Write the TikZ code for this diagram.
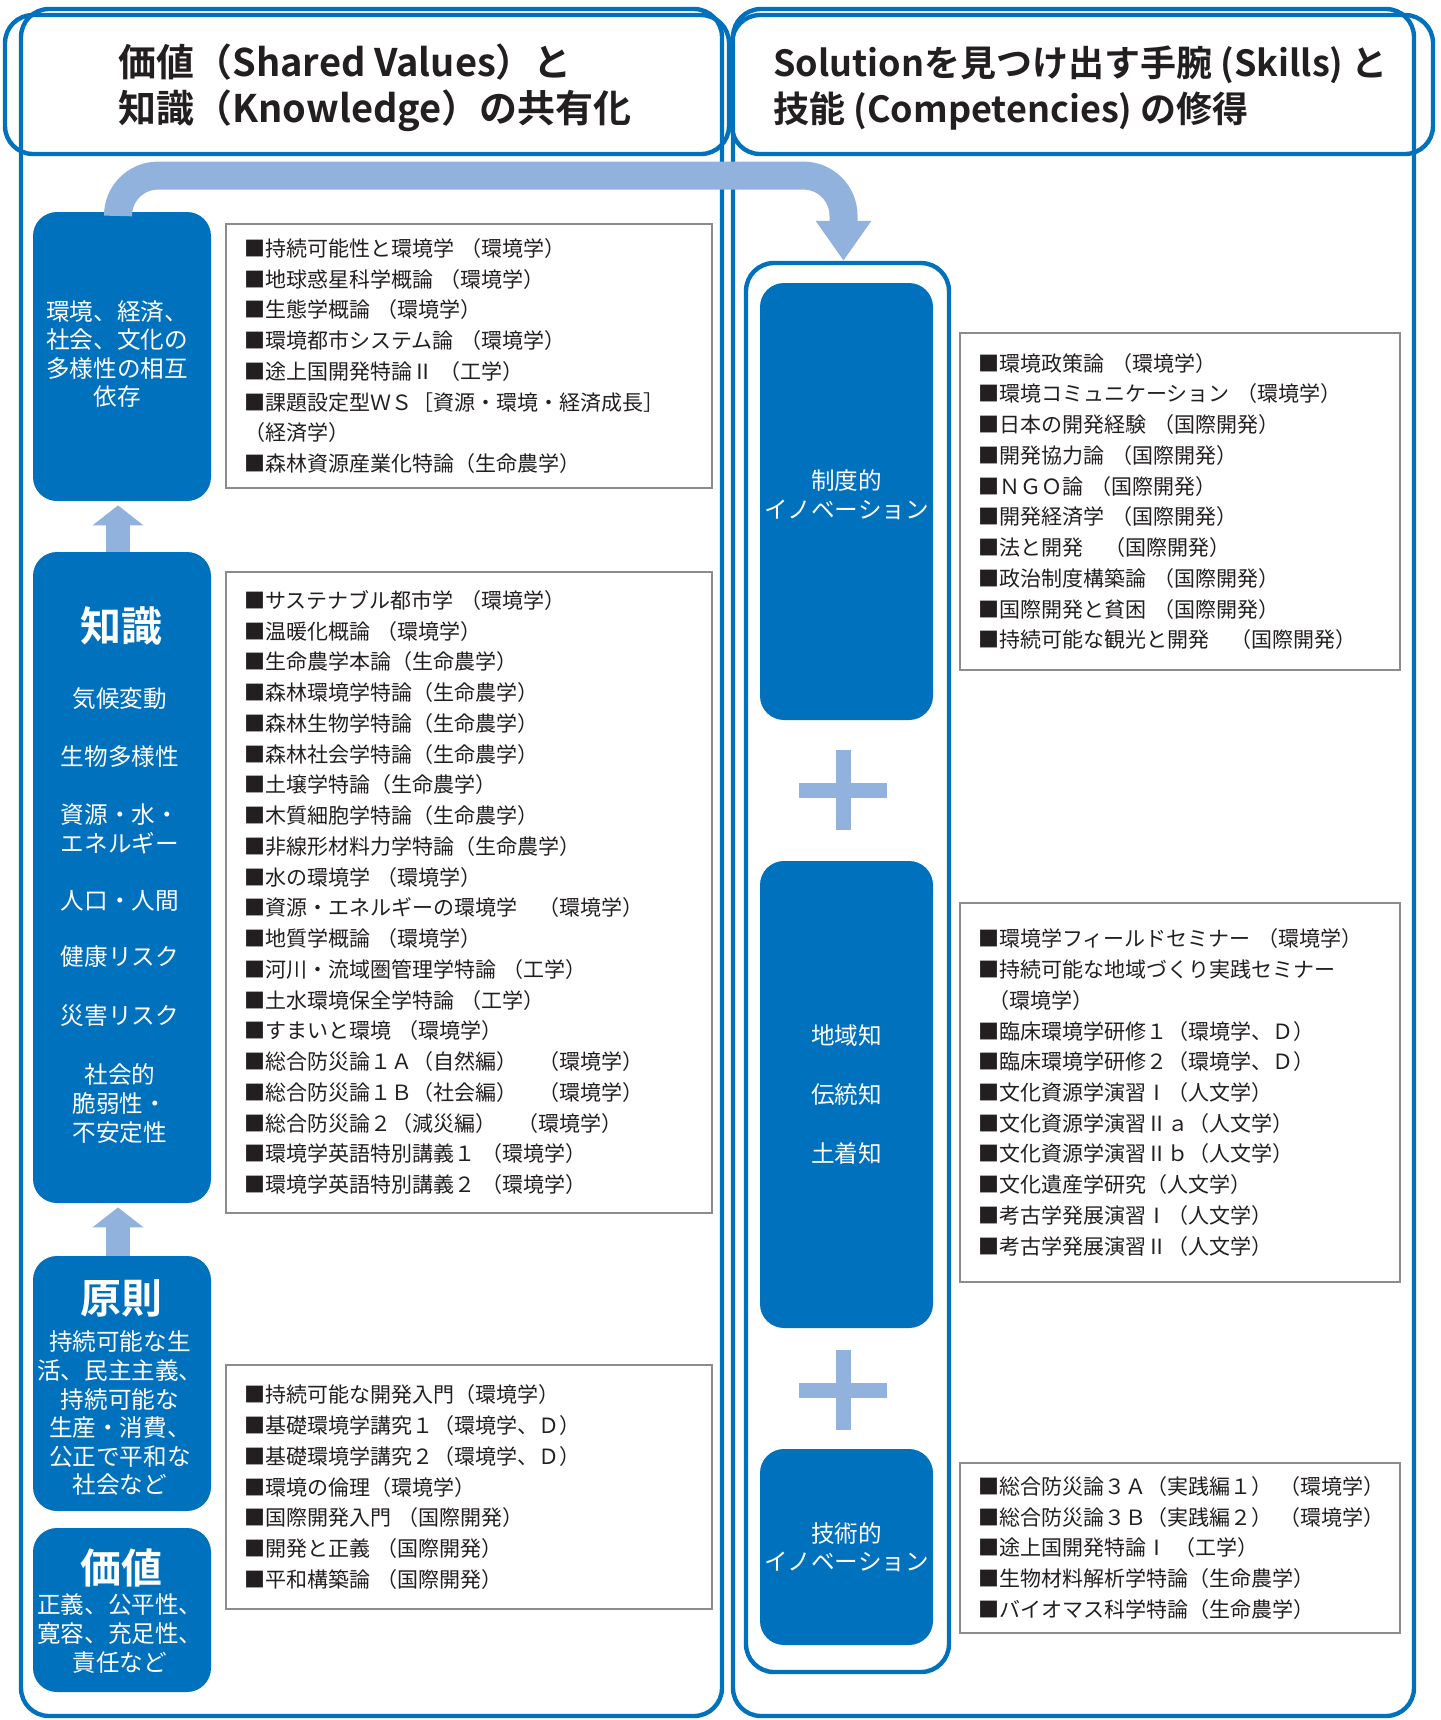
\documentclass[tikz,border=0pt]{standalone}
\usepackage{fontspec}
\setmainfont{Noto Sans CJK JP}[BoldFont={Noto Sans CJK JP Bold}]
\usetikzlibrary{positioning,arrows.meta}
\definecolor{uniblue}{RGB}{0,113,188}
\definecolor{paleblue}{RGB}{145,178,221}
\definecolor{boxgray}{RGB}{140,140,140}
\definecolor{inkgray}{RGB}{35,31,32}
\begin{document}
\begin{tikzpicture}[x=0.5pt,y=-0.5pt,
    frame/.style={draw=uniblue, line width=2.2pt, rounded corners=14pt},
    bluebox/.style={fill=uniblue, rounded corners=12pt, minimum width=89pt, inner sep=0pt,
        text=white, align=center, font=\fontsize{11.8}{14.3}\selectfont},
    btxt/.style={text=white, inner sep=0pt, align=center, font=\fontsize{11.8}{14.3}\selectfont},
    bhead/.style={text=white, inner sep=0pt, font=\fontsize{20.5}{24}\selectfont\bfseries},
    lst/.style={draw=boxgray, line width=0.7pt, inner xsep=9pt, align=left,
        text=inkgray, font=\fontsize{10.5}{15.37}\selectfont},
    title/.style={anchor=west, inner sep=0pt, align=left, text=inkgray,
        font=\fontsize{19}{23}\selectfont\bfseries},
    uparrow/.style={draw=paleblue, line width=12pt, -{Triangle[width=25pt,length=10pt]}},
    plus/.style={draw=paleblue, line width=7.5pt}]

\useasboundingbox (0,0) rectangle (1441,1720);
\draw[frame] (21,9) rectangle (722,1716);
\draw[frame] (733,9) rectangle (1414,1716);
\draw[frame] (5,15) rectangle (729,154);
\draw[frame] (732,15) rectangle (1433,154);

\node[title] (ltitle) at (118,88) {価値（Shared Values）と\\知識（Knowledge）の共有化};
\node[title, font=\fontsize{18}{23}\selectfont\bfseries] (rtitle) at (773,88)
    {Solutionを見つけ出す手腕 (Skills) と\\技能 (Competencies) の修得};

\node[bluebox, minimum height=144.5pt] (dep) at (122,356.5) {};
\node[btxt] (deptxt) at (117,354) {環境、経済、\\社会、文化の\\多様性の相互\\依存};
\node[bluebox, minimum height=325.5pt] (kn) at (122,877.5) {};
\node[bluebox, minimum height=127.5pt] (pr) at (122,1383.5) {};
\node[bluebox, minimum height=82pt] (val) at (122,1610) {};

\node[bhead] (knhead) at (121,626) {知識};
\foreach \y/\t [count=\i] in {699/気候変動, 757/生物多様性, 829/{資源・水・\\エネルギー},
    901/人口・人間, 957/健康リスク, 1016/災害リスク, 1103.5/{社会的\\脆弱性・\\不安定性}}
  \node[btxt] (kn\i) at (120,\y) {\t};
\node[bhead] (prhead) at (121,1298) {原則};
\node[btxt] (prtxt) at (120,1413.5) {持続可能な生\\活、民主主義、\\持続可能な\\生産・消費、\\公正で平和な\\社会など};
\node[bhead] (valhead) at (121,1568) {価値};
\node[btxt] (valtxt) at (120,1633.5) {正義、公平性、\\寛容、充足性、\\責任など};

\draw[uparrow] ([xshift=-2pt]kn.north) -- ([xshift=-2pt,yshift=-2pt]dep.south);
\draw[uparrow] ([xshift=-2pt]pr.north) -- ([xshift=-2pt,yshift=-2pt]kn.south);

\node[frame, minimum width=101.5pt, minimum height=704.5pt] (rframe) at (847.5,967.5) {};
\node[bluebox, minimum width=86.5pt, minimum height=218.5pt] (inst) at (846.5,501.5) {};
\node[btxt] (insttxt) at (846.5,494.5) {制度的\\イノベーション};
\node[bluebox, minimum width=86.5pt, minimum height=233.5pt,
    font=\fontsize{11.8}{29.3}\selectfont] (local) at (846.5,1094.5) {地域知\\伝統知\\土着知};
\node[bluebox, minimum width=86.5pt, minimum height=98pt] (tech) at (846.5,1547) {技術的\\イノベーション};

\foreach \y in {790,1390}
  \draw[plus] (843,\y-40) -- (843,\y+40) (799,\y) -- (887,\y);

\draw[draw=paleblue, line width=14pt, rounded corners=20pt,
    -{Triangle[width=26.5pt,length=20pt]}] ([xshift=-2pt]dep.north) -- ++(0,-36) -| ([xshift=-2pt]rframe.north);

\node[lst, text width=225pt, minimum height=132pt] (l1) at (469,356) {%
■持続可能性と環境学 （環境学）\\
■地球惑星科学概論 （環境学）\\
■生態学概論 （環境学）\\
■環境都市システム論 （環境学）\\
■途上国開発特論Ⅱ （工学）\\
■課題設定型ＷＳ［資源・環境・経済成長］\\
（経済学）\\
■森林資源産業化特論（生命農学）};

\node[lst, text width=225pt, minimum height=320.5pt] (l2) at (469,892.5) {%
■サステナブル都市学 （環境学）\\
■温暖化概論 （環境学）\\
■生命農学本論（生命農学）\\
■森林環境学特論（生命農学）\\
■森林生物学特論（生命農学）\\
■森林社会学特論（生命農学）\\
■土壌学特論（生命農学）\\
■木質細胞学特論（生命農学）\\
■非線形材料力学特論（生命農学）\\
■水の環境学 （環境学）\\
■資源・エネルギーの環境学　（環境学）\\
■地質学概論 （環境学）\\
■河川・流域圏管理学特論 （工学）\\
■土水環境保全学特論 （工学）\\
■すまいと環境 （環境学）\\
■総合防災論１Ａ（自然編）　（環境学）\\
■総合防災論１Ｂ（社会編）　（環境学）\\
■総合防災論２（減災編）　（環境学）\\
■環境学英語特別講義１ （環境学）\\
■環境学英語特別講義２ （環境学）};

\node[lst, text width=225pt, minimum height=122pt] (l3) at (469,1487) {%
■持続可能な開発入門（環境学）\\
■基礎環境学講究１（環境学、Ｄ）\\
■基礎環境学講究２（環境学、Ｄ）\\
■環境の倫理（環境学）\\
■国際開発入門 （国際開発）\\
■開発と正義 （国際開発）\\
■平和構築論 （国際開発）};

\node[lst, text width=202pt, minimum height=168.5pt] (r1) at (1180,501.5) {%
■環境政策論 （環境学）\\
■環境コミュニケーション （環境学）\\
■日本の開発経験 （国際開発）\\
■開発協力論 （国際開発）\\
■ＮＧＯ論 （国際開発）\\
■開発経済学 （国際開発）\\
■法と開発　（国際開発）\\
■政治制度構築論 （国際開発）\\
■国際開発と貧困 （国際開発）\\
■持続可能な観光と開発　（国際開発）};

\node[lst, text width=202pt, minimum height=189.5pt] (r2) at (1180,1092.5) {%
■環境学フィールドセミナー （環境学）\\
■持続可能な地域づくり実践セミナー\\
\hspace{0.5em}（環境学）\\
■臨床環境学研修１（環境学、Ｄ）\\
■臨床環境学研修２（環境学、Ｄ）\\
■文化資源学演習Ⅰ（人文学）\\
■文化資源学演習Ⅱａ（人文学）\\
■文化資源学演習Ⅱｂ（人文学）\\
■文化遺産学研究（人文学）\\
■考古学発展演習Ⅰ（人文学）\\
■考古学発展演習Ⅱ（人文学）};

\node[lst, text width=202pt, minimum height=85pt] (r3) at (1180,1548) {%
■総合防災論３Ａ（実践編１）~（環境学）\\
■総合防災論３Ｂ（実践編２）~（環境学）\\
■途上国開発特論Ⅰ （工学）\\
■生物材料解析学特論（生命農学）\\
■バイオマス科学特論（生命農学）};
\end{tikzpicture}
\end{document}
